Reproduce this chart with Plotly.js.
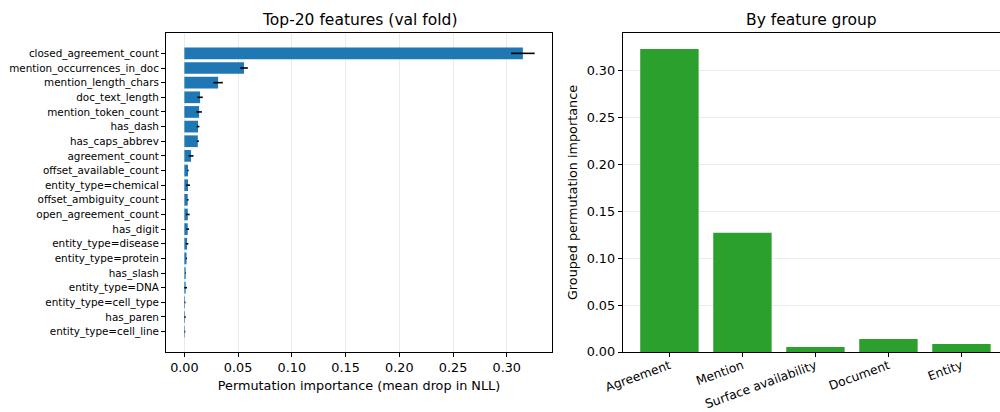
<!DOCTYPE html>
<html>
<head>
<meta charset="utf-8">
<script src="https://cdn.plot.ly/plotly-3.0.1.min.js"></script>
<style>html,body{margin:0;padding:0;background:#fff;}#chart{width:1000px;height:412px;}</style>
</head>
<body>
<div id="chart"></div>
<script>
const featureNames = [
  "closed_agreement_count","mention_occurrences_in_doc","mention_length_chars","doc_text_length",
  "mention_token_count","has_dash","has_caps_abbrev","agreement_count","offset_available_count",
  "entity_type=chemical","offset_ambiguity_count","open_agreement_count","has_digit",
  "entity_type=disease","entity_type=protein","has_slash","entity_type=DNA","entity_type=cell_type",
  "has_paren","entity_type=cell_line"
];
const featureImportance = [0.315,0.0555,0.0314,0.0146,0.0137,0.0127,0.0125,0.0062,0.0034,0.0034,
  0.0031,0.0032,0.0031,0.0025,0.0020,0.0012,0.0012,0.0006,0.0006,0.0005];
const featureStd = [0.011,0.0036,0.0044,0.0025,0.0026,0.0013,0.0010,0.0023,0.0006,0.0018,
  0.0008,0.0017,0.0013,0.0012,0.0005,0.0003,0.0013,0.0004,0.0007,0.0004];

const groupNames = ["Agreement","Mention","Surface availability","Document","Entity"];
const groupImportance = [0.3235,0.1274,0.0053,0.0139,0.0085];

const FONT = "DejaVu Sans, Liberation Sans, sans-serif";
const H = 412, W = 1000;
const yDom = [1 - 352/H, 1 - 33/H];
const TICK = 12.8, TITLE = 15.5, LBL = 10.4;

const traces = [
  {
    type: "bar", orientation: "h",
    x: featureImportance, y: featureNames,
    marker: {color: "#1f77b4", line: {width: 0}},
    width: 0.8,
    error_x: {type: "data", array: featureStd, visible: true, color: "#000000", thickness: 1.6, width: 0},
    xaxis: "x", yaxis: "y", hoverinfo: "x+y"
  },
  {
    type: "bar",
    x: groupNames, y: groupImportance,
    marker: {color: "#2ca02c", line: {width: 0}},
    width: 0.8,
    xaxis: "x2", yaxis: "y2", hoverinfo: "x+y"
  }
];

const axisCommon = {
  showline: true, linecolor: "#000", linewidth: 1,
  ticks: "outside", ticklen: 4, tickwidth: 1, tickcolor: "#000",
  zeroline: false, gridcolor: "#ebebeb", gridwidth: 1,
  tickfont: {family: FONT, size: TICK, color: "#000"}
};

const layout = {
  width: W, height: H,
  margin: {l: 0, r: 0, t: 0, b: 0},
  paper_bgcolor: "#fff", plot_bgcolor: "#fff",
  showlegend: false,
  font: {family: FONT, color: "#000"},
  xaxis: Object.assign({}, axisCommon, {
    domain: [166/W, 552/W], anchor: "y",
    range: [-0.0171, 0.3421], tickvals: [0,0.05,0.10,0.15,0.20,0.25,0.30],
    ticktext: ["0.00","0.05","0.10","0.15","0.20","0.25","0.30"],
    showgrid: true, mirror: true,
    title: {text: "Permutation importance (mean drop in NLL)", font: {family: FONT, size: TICK, color: "#000"}, standoff: 6}
  }),
  yaxis: Object.assign({}, axisCommon, {
    domain: yDom, anchor: "x",
    type: "category", categoryarray: featureNames,
    range: [20.39, -1.39],
    showgrid: false, mirror: true,
    tickfont: {family: FONT, size: LBL, color: "#000"}
  }),
  xaxis2: Object.assign({}, axisCommon, {
    domain: [622.7/W, 1.0], anchor: "y2",
    type: "category", categoryarray: groupNames,
    range: [-0.64, 4.528],
    showgrid: false, mirror: true, tickangle: -20,
    ticklabelstandoff: -3,
    tickfont: {family: FONT, size: 12.3, color: "#000"}
  }),
  yaxis2: Object.assign({}, axisCommon, {
    domain: yDom, anchor: "x2",
    range: [0, 0.3405],
    tickvals: [0,0.05,0.10,0.15,0.20,0.25,0.30],
    ticktext: ["0.00","0.05","0.10","0.15","0.20","0.25","0.30"],
    showgrid: true, mirror: false,
    title: {text: "Grouped permutation importance", font: {family: FONT, size: TICK, color: "#000"}, standoff: 6}
  }),
  annotations: [
    {text: "Top-20 features (val fold)", xref: "paper", yref: "paper", x: 359/W, y: 1 - 20/H,
     xanchor: "center", yanchor: "middle", showarrow: false, font: {family: FONT, size: TITLE, color: "#000"}},
    {text: "By feature group", xref: "paper", yref: "paper", x: 811/W, y: 1 - 20/H,
     xanchor: "center", yanchor: "middle", showarrow: false, font: {family: FONT, size: TITLE, color: "#000"}}
  ]
};

Plotly.newPlot("chart", traces, layout, {displayModeBar: false, staticPlot: true});
</script>
</body>
</html>
